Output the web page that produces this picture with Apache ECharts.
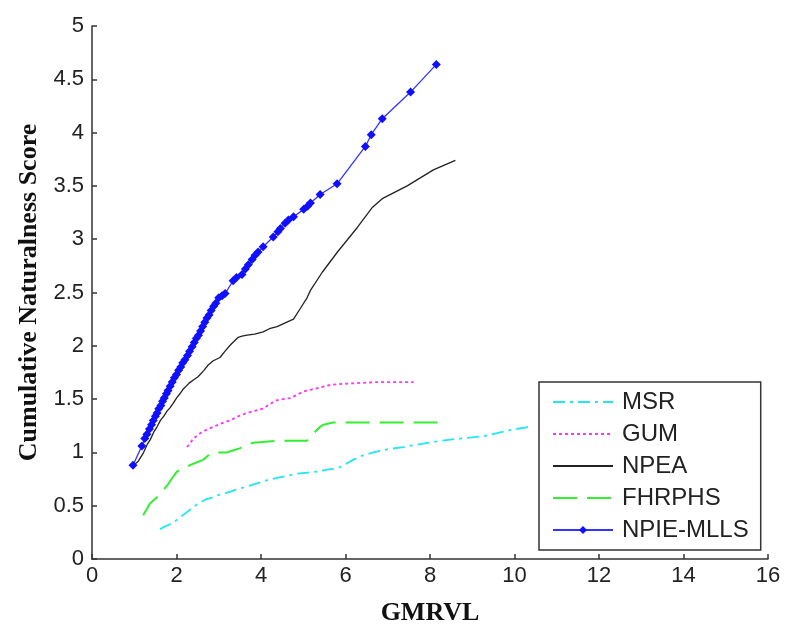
<!DOCTYPE html>
<html>
<head>
<meta charset="utf-8">
<script src="https://cdn.jsdelivr.net/npm/echarts@6/dist/echarts.min.js"></script>
<style>
  html, body { margin: 0; padding: 0; background: #fff; }
  #chart { width: 800px; height: 636px; }
</style>
</head>
<body>
<div id="chart"></div>
<script>
// values, [GMRVL, cumulative score]
const msr = [
  [1.61, 0.28], [1.75, 0.31], [1.92, 0.34], [2.08, 0.39], [2.25, 0.44], [2.40, 0.49],
  [2.56, 0.53], [2.70, 0.56], [2.87, 0.58], [3.05, 0.61], [3.27, 0.63], [3.40, 0.65],
  [3.58, 0.67], [3.75, 0.69], [3.91, 0.71], [4.15, 0.74], [4.38, 0.76], [4.60, 0.78],
  [4.86, 0.80], [5.10, 0.81], [5.33, 0.82], [5.60, 0.84], [5.81, 0.85], [6.00, 0.89],
  [6.18, 0.93], [6.40, 0.97], [6.66, 1.00], [7.00, 1.03], [7.37, 1.05], [7.94, 1.09],
  [8.48, 1.12], [9.00, 1.14], [9.38, 1.16], [9.90, 1.21], [10.35, 1.24]
];
const gum = [
  [2.25, 1.05], [2.40, 1.13], [2.56, 1.18], [2.70, 1.21], [2.87, 1.24], [3.05, 1.27],
  [3.27, 1.30], [3.47, 1.34], [3.67, 1.37], [3.85, 1.39], [4.05, 1.41], [4.20, 1.45],
  [4.38, 1.49], [4.69, 1.51], [4.85, 1.54], [5.00, 1.57], [5.20, 1.59], [5.40, 1.61],
  [5.60, 1.63], [5.80, 1.64], [6.28, 1.65], [6.75, 1.66], [7.61, 1.66]
];
const npea = [
  [1.02, 0.89], [1.10, 0.92], [1.21, 0.99], [1.30, 1.07], [1.38, 1.12], [1.46, 1.19],
  [1.54, 1.24], [1.62, 1.30], [1.70, 1.34], [1.78, 1.39], [1.85, 1.42], [1.92, 1.46],
  [2.00, 1.51], [2.08, 1.55], [2.15, 1.59], [2.30, 1.65], [2.40, 1.68], [2.51, 1.71],
  [2.65, 1.77], [2.75, 1.82], [2.87, 1.86], [3.03, 1.89], [3.15, 1.95], [3.28, 2.01],
  [3.46, 2.08], [3.55, 2.09], [3.67, 2.10], [3.85, 2.11], [4.05, 2.13], [4.20, 2.16],
  [4.38, 2.18], [4.60, 2.22], [4.77, 2.25], [4.93, 2.35], [5.09, 2.45], [5.17, 2.52],
  [5.45, 2.69], [5.81, 2.88], [6.28, 3.11], [6.64, 3.30], [6.87, 3.38], [7.46, 3.50],
  [8.08, 3.65], [8.60, 3.74]
];
const fhrphs = [
  [1.21, 0.41], [1.30, 0.47], [1.37, 0.52], [1.54, 0.58], [1.65, 0.63], [1.78, 0.69],
  [1.90, 0.76], [2.01, 0.82], [2.15, 0.85], [2.32, 0.88], [2.50, 0.91], [2.63, 0.93],
  [2.75, 0.97], [2.87, 1.00], [3.20, 1.00], [3.35, 1.02], [3.51, 1.04], [3.65, 1.07],
  [3.82, 1.09], [4.10, 1.10], [4.38, 1.11], [5.09, 1.11], [5.25, 1.18], [5.40, 1.24],
  [5.48, 1.26], [5.71, 1.28], [8.36, 1.28]
];
const npieMlls = [
  [0.97, 0.88], [1.18, 1.06], [1.25, 1.13], [1.30, 1.17], [1.36, 1.22], [1.41, 1.26],
  [1.45, 1.30], [1.50, 1.34], [1.54, 1.37], [1.58, 1.41], [1.63, 1.44], [1.67, 1.48],
  [1.71, 1.51], [1.76, 1.55], [1.80, 1.58], [1.85, 1.62], [1.90, 1.66], [1.95, 1.70],
  [2.00, 1.73], [2.05, 1.77], [2.10, 1.80], [2.15, 1.84], [2.20, 1.87], [2.26, 1.91],
  [2.31, 1.95], [2.37, 1.99], [2.42, 2.03], [2.47, 2.07], [2.52, 2.10], [2.57, 2.14],
  [2.62, 2.18], [2.67, 2.22], [2.72, 2.26], [2.77, 2.29], [2.82, 2.33], [2.88, 2.37],
  [2.93, 2.40], [3.00, 2.45], [3.08, 2.47], [3.15, 2.49], [3.34, 2.61], [3.42, 2.64],
  [3.55, 2.67], [3.63, 2.72], [3.70, 2.76], [3.79, 2.81], [3.86, 2.85], [3.93, 2.88],
  [4.05, 2.93], [4.29, 3.02], [4.40, 3.07], [4.46, 3.10], [4.57, 3.15], [4.65, 3.18],
  [4.77, 3.21], [5.01, 3.28], [5.10, 3.31], [5.17, 3.34], [5.40, 3.42], [5.80, 3.52],
  [6.47, 3.87], [6.61, 3.98], [6.87, 4.13], [7.54, 4.38], [8.15, 4.64]
];
const legendNames = ['MSR', 'GUM', 'NPEA', 'FHRPHS', 'NPIE-MLLS'];

const sans = "'Liberation Sans', Arial, sans-serif";
const serif = "'Liberation Serif', 'Times New Roman', serif";
const axisColor = '#333';

const chart = echarts.init(document.getElementById('chart'));

const lineSeries = (name, data, color, type, width) => ({
  name,
  type: 'line',
  data,
  symbol: 'none',
  color,
  lineStyle: { color, width, type },
  z: 2,
});

// only the NPIE-MLLS legend entry carries a marker
const legendData = legendNames.map(name =>
  name === 'NPIE-MLLS'
    ? { name }
    : { name, itemStyle: { color: 'rgba(0,0,0,0)', opacity: 0, borderWidth: 0 } },
);

chart.setOption({
  animation: false,
  backgroundColor: '#fff',
  grid: { left: 92, top: 26, right: 32, bottom: 77 },
  xAxis: {
    type: 'value',
    min: 0,
    max: 16,
    interval: 2,
    name: 'GMRVL',
    nameLocation: 'middle',
    nameGap: 41,
    nameTextStyle: { fontFamily: serif, fontWeight: 'bold', fontSize: 26, color: '#111' },
    axisLine: { show: true, lineStyle: { color: axisColor, width: 1.5 } },
    axisTick: { show: true, inside: true, length: 5, lineStyle: { color: axisColor, width: 1.5 } },
    axisLabel: { fontFamily: sans, fontSize: 22, color: '#222', margin: 6 },
    splitLine: { show: false },
  },
  yAxis: {
    type: 'value',
    min: 0,
    max: 5,
    interval: 0.5,
    name: 'Cumulative Naturalness Score',
    nameLocation: 'middle',
    nameGap: 50,
    nameTextStyle: { fontFamily: serif, fontWeight: 'bold', fontSize: 26, color: '#111' },
    axisLine: { show: true, lineStyle: { color: axisColor, width: 1.5 } },
    axisTick: { show: true, inside: true, length: 5, lineStyle: { color: axisColor, width: 1.5 } },
    axisLabel: { fontFamily: sans, fontSize: 22, color: '#222', margin: 8 },
    splitLine: { show: false },
  },
  legend: {
    orient: 'vertical',
    left: 539,
    top: 382,
    padding: [7, 12, 7, 13],
    itemGap: 6,
    itemWidth: 60,
    itemHeight: 10,
    backgroundColor: '#fff',
    borderColor: axisColor,
    borderWidth: 1.5,
    textStyle: { fontFamily: sans, fontSize: 24, color: '#222', lineHeight: 26, padding: [0, 0, 0, 4] },
    data: legendData,
  },
  series: [
    lineSeries('MSR', msr, '#22e6f2', [12, 5, 3, 5], 1.8),
    lineSeries('GUM', gum, '#ff33ff', [3, 3], 1.8),
    lineSeries('NPEA', npea, '#222', 'solid', 1.3),
    lineSeries('FHRPHS', fhrphs, '#33ee33', [24, 10], 2),
    {
      name: 'NPIE-MLLS',
      type: 'line',
      data: npieMlls,
      symbol: 'diamond',
      symbolSize: 9,
      color: '#1010ff',
      itemStyle: { color: '#1010ff' },
      lineStyle: { color: '#3333ff', width: 1.3 },
      z: 3,
    },
  ],
});
</script>
</body>
</html>
